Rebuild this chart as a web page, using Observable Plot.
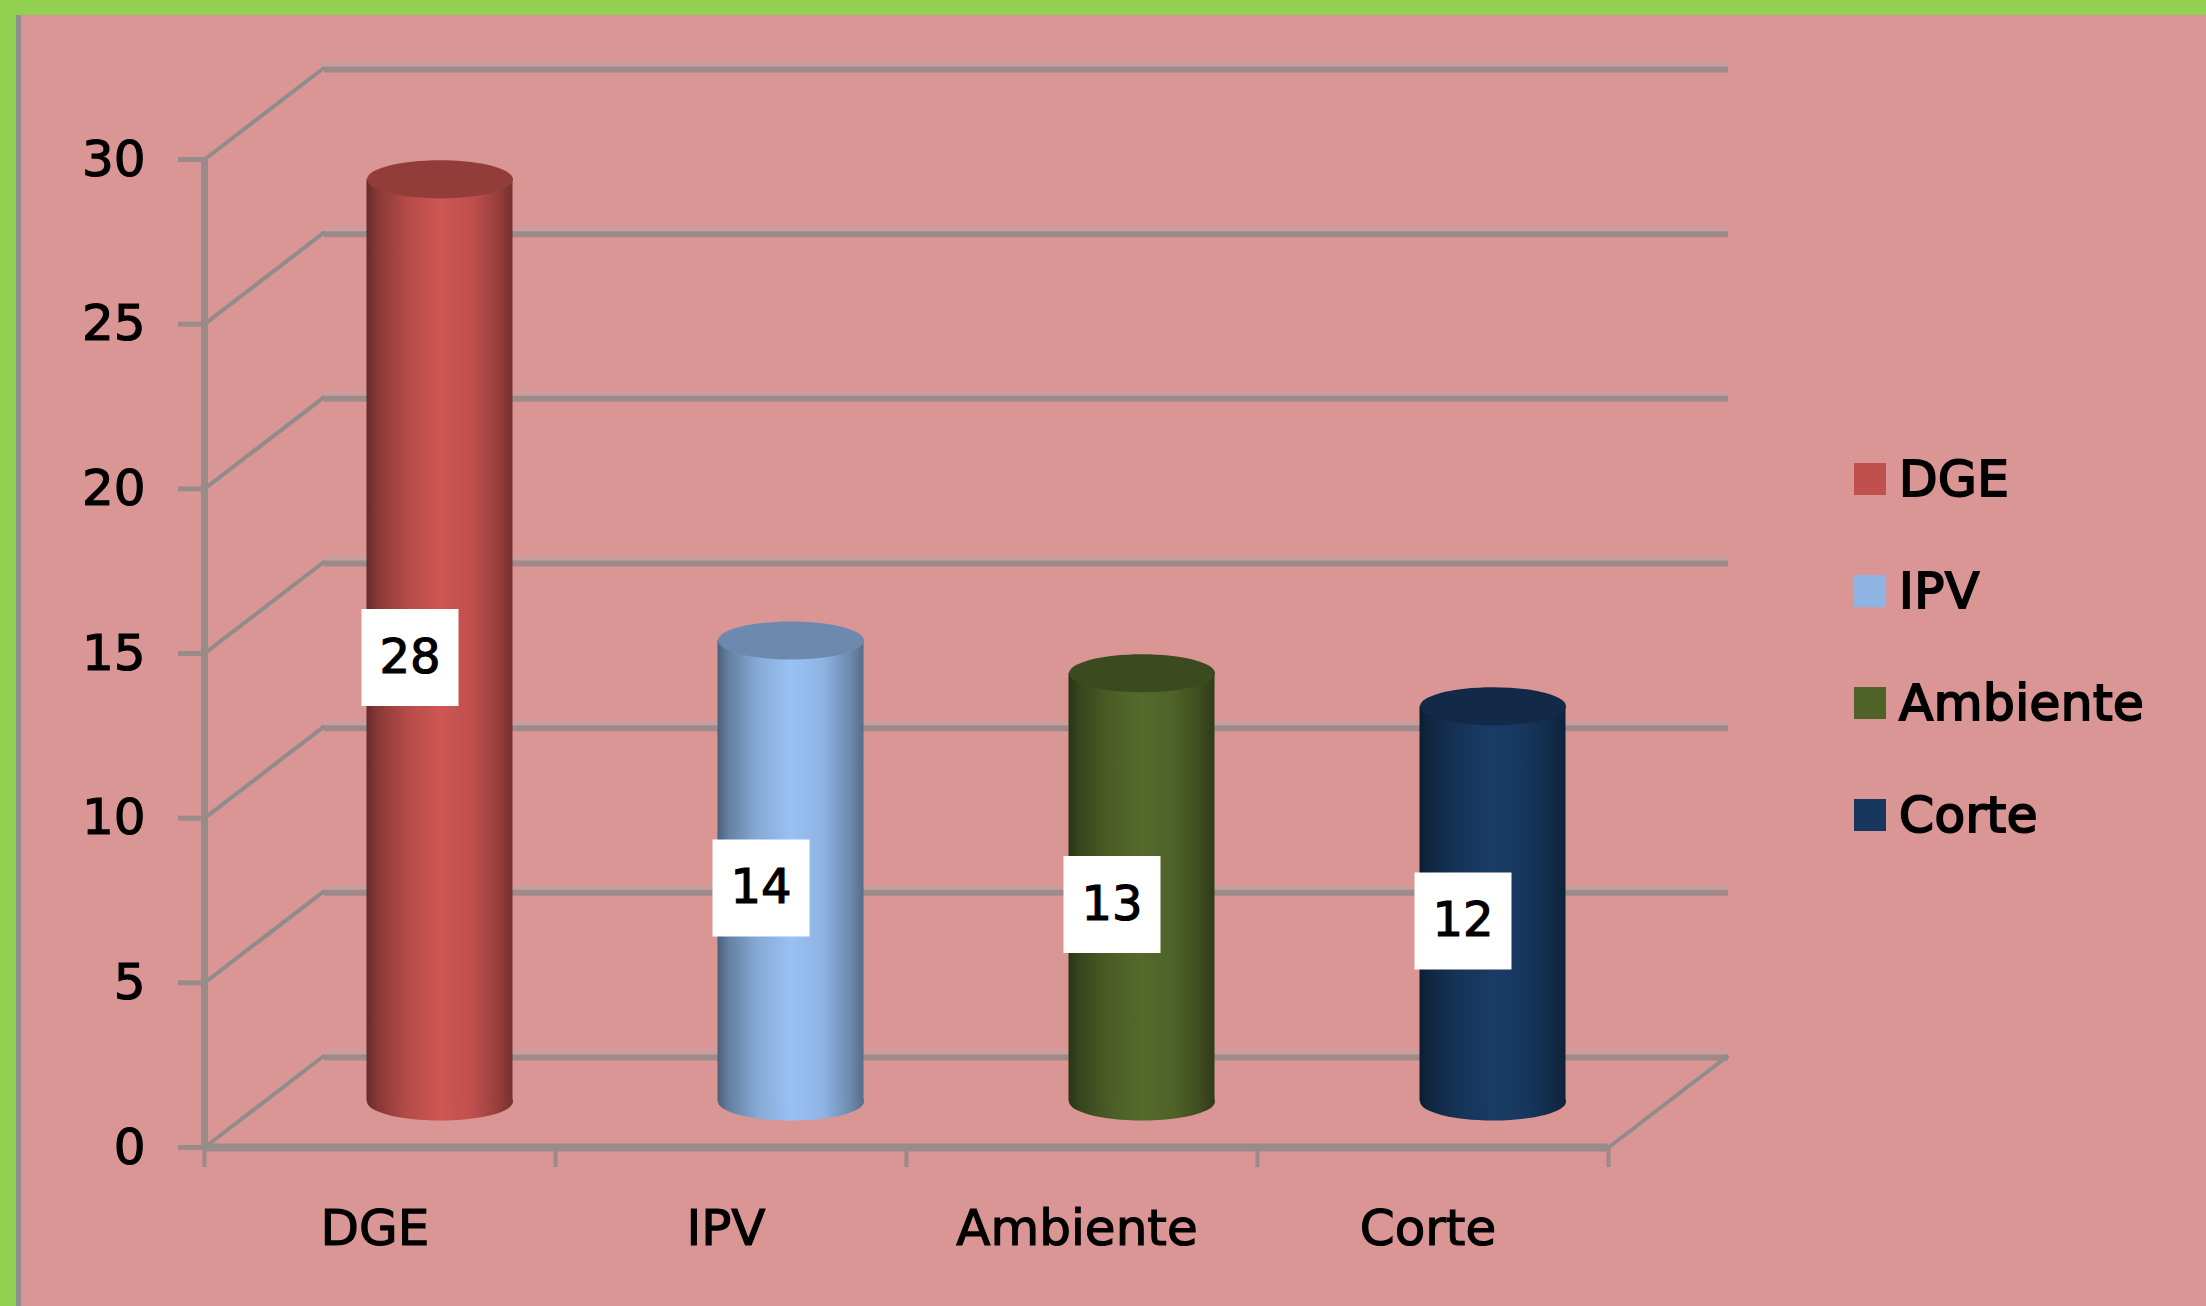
<!DOCTYPE html>
<html>
<head>
<meta charset="utf-8">
<script src="https://cdn.jsdelivr.net/npm/d3@7"></script>
<script src="https://cdn.jsdelivr.net/npm/@observablehq/plot@0.6"></script>
<style>
  html, body { margin: 0; padding: 0; }
  body { width: 2206px; height: 1306px; overflow: hidden; position: relative; background: #92D050; font-family: "DejaVu Sans", sans-serif; }
  #panel { position: absolute; left: 16px; top: 15px; right: 0; bottom: 0; background: #D99694; border-left: 5px solid #8f8f8f; }
  #chart { position: absolute; left: 0; top: 0; }
  #legend { position: absolute; left: 1854px; top: 463px; }
  .row { position: absolute; left: 0; display: flex; align-items: center; height: 32px; white-space: nowrap; }
  .sw { width: 32px; height: 32px; margin-right: 13px; flex: none; }
  .lab { font-size: 50px; color: #000; line-height: 1; -webkit-text-stroke: 2px #000; letter-spacing: 0.5px; }
</style>
</head>
<body>
<div id="panel"></div>
<div id="chart"></div>
<div id="legend"></div>
<script>
// ---- data ----
const categories = ["DGE", "IPV", "Ambiente", "Corte"];
const values = [28, 14, 13, 12];
const colors = ["#C0504D", "#8EB4E3", "#4F6228", "#17375E"];
const yTicks = [0, 5, 10, 15, 20, 25, 30];

// ---- layout constants ----
const W = 1800, H = 1306, ML = 204, MR = 192, MT = 159, MB = 159;
const plotW = W - ML - MR, plotH = H - MT - MB;
const pxX = plotW / categories.length, pxY = plotH / 30;
const DEPTH_X = 120 / pxX;   // depth of 3D box in x units
const DEPTH_Y = 92 / pxY;    // depth of 3D box in y units
const CYL_RX = 73, CYL_RY = 19;
const HALF_W = CYL_RX / pxX;

const rows = categories.map((c, i) => ({cat: c, i, value: values[i], color: colors[i]}));
const bounds = d3.range(categories.length + 1);
const centers = categories.map((c, i) => i + 0.5);

function ellipseSymbol(rx, ry) {
  const k = 0.5523;
  return {draw(ctx) {
    ctx.moveTo(-rx, 0);
    ctx.bezierCurveTo(-rx, -ry * k, -rx * k, -ry, 0, -ry);
    ctx.bezierCurveTo(rx * k, -ry, rx, -ry * k, rx, 0);
    ctx.bezierCurveTo(rx, ry * k, rx * k, ry, 0, ry);
    ctx.bezierCurveTo(-rx * k, ry, -rx, ry * k, -rx, 0);
    ctx.closePath();
  }};
}
function rectSymbol(w, h) {
  return {draw(ctx) { ctx.rect(-w / 2, -h / 2, w, h); }};
}

const gridCol = "#9f8a8a", axisCol = "#9a8b8b", diagCol = "#918b8b";

const chart = Plot.plot({
  width: W, height: H,
  marginLeft: ML, marginRight: MR, marginTop: MT, marginBottom: MB,
  x: {domain: [0, categories.length]},
  y: {domain: [0, 30]},
  color: {type: "identity"},
  style: {background: "transparent", fontFamily: "'DejaVu Sans', sans-serif", fontSize: "50px", color: "black", overflow: "visible"},
  marks: [
    // back wall gridlines
    Plot.ruleY(yTicks, {x1: DEPTH_X, x2: categories.length + DEPTH_X, y: d => d + DEPTH_Y, stroke: "#c99e9e", strokeWidth: 5, dy: -3}),
    Plot.ruleY(yTicks, {x1: DEPTH_X, x2: categories.length + DEPTH_X, y: d => d + DEPTH_Y, stroke: gridCol, strokeWidth: 6, dy: 2}),
    // left wall diagonals
    Plot.link(yTicks, {x1: 0, y1: d => d, x2: DEPTH_X, y2: d => d + DEPTH_Y, stroke: diagCol, strokeWidth: 4}),
    // right floor diagonal
    Plot.link([0], {x1: categories.length, y1: 0, x2: categories.length + DEPTH_X, y2: DEPTH_Y, stroke: diagCol, strokeWidth: 4}),
    // front floor edge and y axis line
    Plot.ruleY([0], {x1: 0, x2: categories.length, stroke: axisCol, strokeWidth: 8}),
    Plot.ruleX([0], {y1: 0, y2: 30, stroke: axisCol, strokeWidth: 7}),
    // axes
    Plot.axisY(yTicks, {tickSize: 26, tickPadding: 33, stroke: axisCol, strokeWidth: 5, fill: "black", fontSize: 50, tickFormat: d => String(d)}),
    Plot.axisX(bounds, {tickSize: 20, stroke: axisCol, strokeWidth: 4, tickFormat: () => ""}),
    Plot.axisX(centers, {tickSize: 0, tickPadding: 62, fill: "black", fontSize: 50, dx: -5, tickFormat: d => categories[Math.floor(d)], ariaLabel: "category labels"}),
    // cylinders
    Plot.dot(rows, {x: d => d.i + 0.5 + DEPTH_X / 2, y: DEPTH_Y / 2, symbol: ellipseSymbol(CYL_RX, CYL_RY), fill: d => `url(#cyl-${d.i})`}),
    Plot.rect(rows, {x1: d => d.i + 0.5 + DEPTH_X / 2 - HALF_W, x2: d => d.i + 0.5 + DEPTH_X / 2 + HALF_W, y1: DEPTH_Y / 2, y2: d => d.value + DEPTH_Y / 2, fill: d => `url(#cyl-${d.i})`}),
    Plot.dot(rows, {x: d => d.i + 0.5 + DEPTH_X / 2, y: d => d.value + DEPTH_Y / 2, symbol: ellipseSymbol(CYL_RX, CYL_RY), fill: d => d3.color(d.color).darker(0.75).formatHex()}),
    // value labels
    Plot.dot(rows, {x: d => d.i + 0.5 + DEPTH_X / 4, y: d => d.value / 2 + DEPTH_Y / 4, symbol: rectSymbol(97, 97), fill: "white", dy: -6}),
    Plot.text(rows, {x: d => d.i + 0.5 + DEPTH_X / 4, y: d => d.value / 2 + DEPTH_Y / 4, text: d => String(d.value), fill: "black", fontSize: 48, dy: -6})
  ]
});

// gradients for the cylinder bodies
const defs = d3.select(chart).insert("defs", ":first-child");
rows.forEach(d => {
  const c = d3.color(d.color);
  const g = defs.append("linearGradient").attr("id", `cyl-${d.i}`).attr("x1", 0).attr("x2", 1).attr("y1", 0).attr("y2", 0);
  const stops = [[0, c.darker(1.8)], [0.07, c.darker(1.0)], [0.28, c.darker(0.15)], [0.5, c.brighter(0.2)], [0.72, c], [0.9, c.darker(0.7)], [1, c.darker(1.4)]];
  stops.forEach(([o, col]) => g.append("stop").attr("offset", o).attr("stop-color", col.formatHex()));
});

// slightly heavier text, like the reference's rendering
d3.select(chart).selectAll("text").attr("stroke", "black").attr("stroke-width", 1.2);
d3.select(chart).selectAll('g[aria-label="category labels"] text').attr("stroke-width", 2.2);

document.getElementById("chart").appendChild(chart);

// legend
const legend = d3.select("#legend");
rows.forEach((d, k) => {
  const r = legend.append("div").attr("class", "row").style("top", `${k * 112}px`);
  r.append("div").attr("class", "sw").style("background", d.color);
  r.append("div").attr("class", "lab").text(d.cat);
});
</script>
</body>
</html>
